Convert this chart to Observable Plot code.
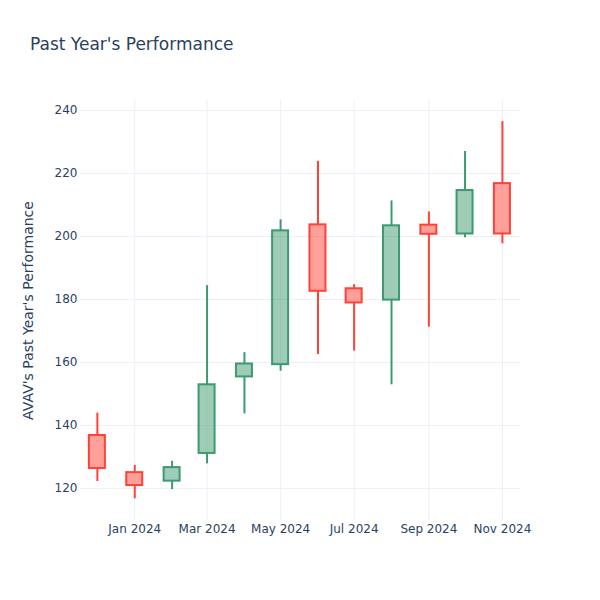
<!DOCTYPE html>
<html>
<head>
<meta charset="utf-8">
<script src="https://cdn.jsdelivr.net/npm/d3@7"></script>
<script src="https://cdn.jsdelivr.net/npm/@observablehq/plot@0.6"></script>
<style>
  html, body { margin: 0; padding: 0; background: white; }
  #wrap { position: relative; width: 600px; height: 600px; }
  #title { position: absolute; left: 30px; top: 34px; font: 17px/20px "DejaVu Sans", sans-serif; color: #2a3f5f; white-space: nowrap; }
</style>
</head>
<body>
<div id="wrap">
  <div id="title">Past Year's Performance</div>
</div>
<script>
const titleText = "Past Year's Performance";
const yLabel = "AVAV's Past Year's Performance";

const dates = ["2023-12-01","2024-01-01","2024-02-01","2024-03-01","2024-04-01","2024-05-01",
               "2024-06-01","2024-07-01","2024-08-01","2024-09-01","2024-10-01","2024-11-01"];
const openV  = [136.8, 125.0, 122.3, 131.1, 155.4, 159.3, 203.7, 183.4, 179.8, 203.6, 200.8, 216.8];
const closeV = [126.3, 120.9, 126.6, 152.9, 159.5, 201.8, 182.6, 178.9, 203.4, 200.7, 214.6, 200.8];
const highV  = [143.9, 127.3, 128.6, 184.4, 163.1, 205.3, 223.9, 184.7, 211.3, 207.8, 227.0, 236.5];
const lowV   = [122.2, 116.7, 119.6, 127.8, 143.7, 157.2, 162.5, 163.6, 152.9, 171.2, 199.6, 197.7];

const xTicks = ["2024-01-01","2024-03-01","2024-05-01","2024-07-01","2024-09-01","2024-11-01"];
const yTicks = [120, 140, 160, 180, 200, 220, 240];
const xDomain = ["2023-11-17","2024-11-16"];
const yDomain = [109.8, 243.2];

const upColor = "#3D9970";
const downColor = "#FF4136";
const gridColor = "#EBF0F8";

const data = dates.map((d, i) => ({
  date: new Date(d), open: openV[i], close: closeV[i], high: highV[i], low: lowV[i]
}));
const color = d => d.close >= d.open ? upColor : downColor;

const chart = Plot.plot({
  width: 600,
  height: 600,
  marginLeft: 80,
  marginRight: 80,
  marginTop: 100,
  marginBottom: 80,
  style: { fontFamily: "DejaVu Sans, sans-serif", fontSize: "12px", color: "#2a3f5f", background: "white" },
  x: {
    type: "utc",
    domain: xDomain.map(d => new Date(d)),
    ticks: xTicks.map(d => new Date(d)),
    tickFormat: "%b %Y",
    tickSize: 0,
    tickPadding: 4,
    label: null
  },
  y: {
    domain: yDomain,
    ticks: yTicks,
    tickSize: 0,
    tickPadding: 3,
    label: null
  },
  marks: [
    Plot.ruleX(xTicks.map(d => new Date(d)), { stroke: gridColor, strokeOpacity: 1, strokeWidth: 1 }),
    Plot.ruleY(yTicks, { stroke: gridColor, strokeOpacity: 1, strokeWidth: 1 }),
    Plot.ruleX(data, { x: "date", y1: "low", y2: d => Math.min(d.open, d.close), stroke: color, strokeWidth: 2 }),
    Plot.ruleX(data, { x: "date", y1: d => Math.max(d.open, d.close), y2: "high", stroke: color, strokeWidth: 2 }),
    Plot.rect(data, {
      x1: "date", x2: "date", y1: "open", y2: "close",
      insetLeft: -8, insetRight: -8,
      fill: color, fillOpacity: 0.5, stroke: color, strokeWidth: 2
    }),
    Plot.text([yLabel], { frameAnchor: "left", textAnchor: "middle", dx: -52, rotate: -90, fontSize: 14, fill: "#2a3f5f" })
  ]
});
document.getElementById("wrap").appendChild(chart);
</script>
</body>
</html>
